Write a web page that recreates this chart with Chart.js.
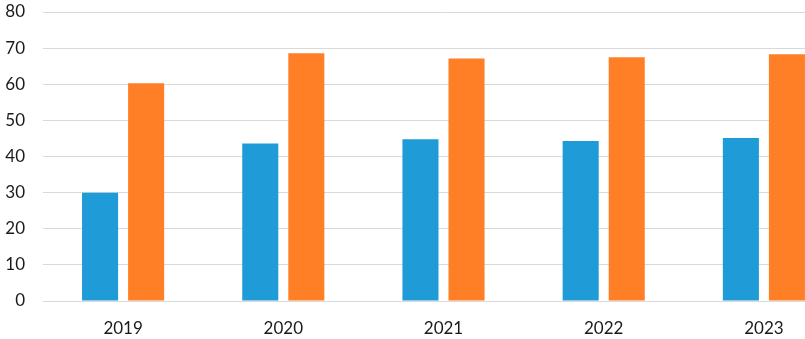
<!DOCTYPE html>
<html>
<head>
<meta charset="utf-8">
<script src="https://cdn.jsdelivr.net/npm/chart.js@4"></script>
<style>
  html, body { margin: 0; padding: 0; background: #fff; overflow: hidden; }
  #wrap { width: 805px; height: 339px; overflow: hidden; }
</style>
</head>
<body>
<div id="wrap">
  <canvas id="barChart" width="844" height="339"></canvas>
</div>
<script>
const years = ["2019", "2020", "2021", "2022", "2023"];
const blueValues = [30, 43.6, 44.8, 44.3, 45.1];
const orangeValues = [60.3, 68.6, 67.1, 67.5, 68.3];
const yTicks = [0, 10, 20, 30, 40, 50, 60, 70, 80];

const ctx = document.getElementById("barChart").getContext("2d");
new Chart(ctx, {
  type: "bar",
  data: {
    labels: years,
    datasets: [
      {
        data: blueValues,
        backgroundColor: "#1F9BD7",
        borderWidth: 0,
        categoryPercentage: 0.575,
        barPercentage: 0.783,
      },
      {
        data: orangeValues,
        backgroundColor: "#FF7F27",
        borderWidth: 0,
        categoryPercentage: 0.575,
        barPercentage: 0.783,
      },
    ],
  },
  options: {
    responsive: false,
    animation: false,
    devicePixelRatio: 1,
    layout: { padding: { top: 12, right: 0, bottom: 0, left: 0 } },
    plugins: {
      legend: { display: false },
      tooltip: { enabled: false },
    },
    scales: {
      x: {
        grid: { display: false, drawTicks: false },
        border: { display: false },
        ticks: {
          color: "#1a1a1a",
          padding: 17,
          font: { family: "Lato", size: 17 },
        },
        afterFit: (scale) => { scale.height = 38; },
      },
      y: {
        min: 0,
        max: 80,
        afterBuildTicks: (scale) => {
          scale.ticks = yTicks.map((v) => ({ value: v }));
        },
        grid: { color: "#d9d9d9", lineWidth: 1, drawTicks: false },
        border: { display: false },
        ticks: {
          color: "#1a1a1a",
          padding: 18,
          font: { family: "Lato", size: 17 },
        },
        afterFit: (scale) => {
          scale.width = 43;
          scale.paddingTop = 0;
          scale.paddingBottom = 0;
        },
      },
    },
  },
});
</script>
</body>
</html>
